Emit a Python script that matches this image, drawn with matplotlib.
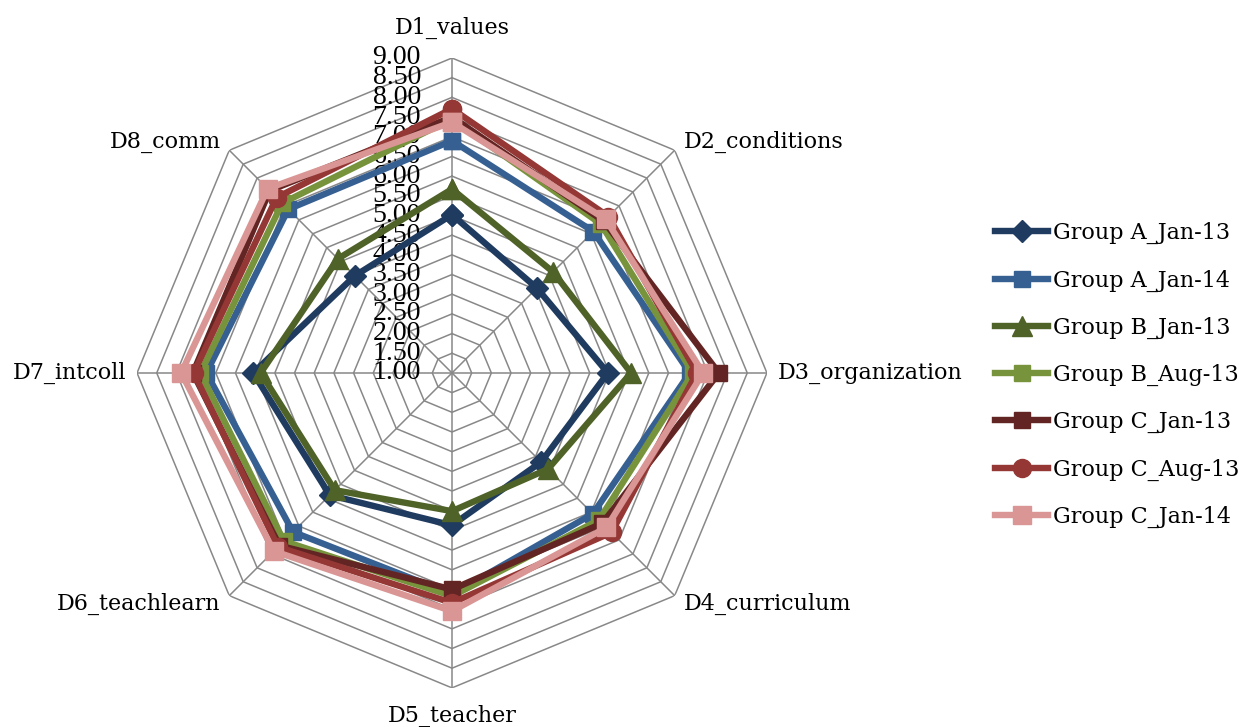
import numpy as np
import matplotlib
matplotlib.use("Agg")
from matplotlib import pyplot as plt
from matplotlib.transforms import offset_copy

categories = ["D1_values", "D2_conditions", "D3_organization", "D4_curriculum",
              "D5_teacher", "D6_teachlearn", "D7_intcoll", "D8_comm"]

group_a_jan13 = [5.02, 4.05, 4.96, 4.20, 4.87, 5.39, 6.05, 4.49]
group_a_jan14 = [6.90, 6.08, 7.04, 6.06, 6.62, 6.71, 7.24, 6.88]
group_b_jan13 = [5.67, 4.63, 5.55, 4.45, 4.51, 5.21, 5.86, 5.10]
group_b_aug13 = [7.45, 6.35, 7.12, 6.28, 6.67, 7.04, 7.39, 7.10]
group_c_jan13 = [7.50, 6.45, 7.78, 6.40, 6.50, 7.20, 7.58, 7.55]
group_c_aug13 = [7.71, 6.62, 7.22, 6.73, 6.84, 7.25, 7.56, 7.30]
group_c_jan14 = [7.37, 6.52, 7.38, 6.55, 7.05, 7.40, 7.88, 7.62]

series_names = ["Group A_Jan-13", "Group A_Jan-14", "Group B_Jan-13", "Group B_Aug-13",
                "Group C_Jan-13", "Group C_Aug-13", "Group C_Jan-14"]
series_values = [group_a_jan13, group_a_jan14, group_b_jan13, group_b_aug13,
                 group_c_jan13, group_c_aug13, group_c_jan14]

rings = np.arange(1.0, 9.01, 0.5)

colors = ["#1F3B5F", "#376092", "#4F6228", "#77933C", "#632523", "#953735", "#D99694"]
markers = ["D", "s", "^", "s", "s", "o", "s"]
msizes = [11, 12, 14, 12, 12, 13, 13]

LW = 4.6
GRID = "#888888"

fig = plt.figure(figsize=(12.39, 7.27), dpi=100)
ax = fig.add_axes([0.1106, 0.0537, 0.5084, 0.8666], projection="polar")
ax.set_theta_zero_location("N")
ax.set_theta_direction(-1)
ax.set_ylim(1, 9)
ax.grid(False)
ax.spines["polar"].set_visible(False)
ax.set_xticks([])
ax.set_yticks([])
ax.patch.set_alpha(0)

n = len(categories)
theta = np.arange(n) * 2 * np.pi / n
theta_c = np.append(theta, theta[0])

# octagon gridlines (straight chords) and spokes
for r in rings[1:]:
    ax.plot(theta_c, [r] * (n + 1), color=GRID, lw=1.1, zorder=1)
for t in theta:
    ax.plot([t, t], [1, 9], color=GRID, lw=1.1, zorder=1)

# radial value labels left of the top spoke
lab_tr = offset_copy(ax.transData, fig=fig, x=-31, y=0, units="dots")
for r in rings:
    ax.text(0, r, f"{r:.2f}", transform=lab_tr, ha="right", va="center",
            family="Liberation Serif", fontsize=20, zorder=2)

for name, vals, c, m, ms in zip(series_names, series_values, colors, markers, msizes):
    v = np.append(vals, vals[0])
    ax.plot(theta_c, v, color=c, lw=LW, marker=m, markersize=ms,
            markerfacecolor=c, markeredgecolor=c, markeredgewidth=1,
            label=name, zorder=3, clip_on=False)

# category labels around the outside
label_pos = [(9.77, "center", "center"), (9.31, "left", "center"),
             (9.27, "left", "center"), (9.31, "left", "center"),
             (9.70, "center", "center"), (9.31, "right", "center"),
             (9.27, "right", "center"), (9.31, "right", "center")]
for t, name, (r, ha, va) in zip(theta, categories, label_pos):
    ax.text(t, r, name, ha=ha, va=va, family="DejaVu Serif", fontsize=16,
            clip_on=False)

fig.legend(loc="center left", bbox_to_anchor=(995 / 1239, 1 - 375 / 727),
           frameon=False, prop={"family": "DejaVu Serif", "size": 16},
           handlelength=2.4, handletextpad=0.2, labelspacing=1.13,
           borderpad=0, borderaxespad=0)

fig.savefig("out.png", dpi=100)
